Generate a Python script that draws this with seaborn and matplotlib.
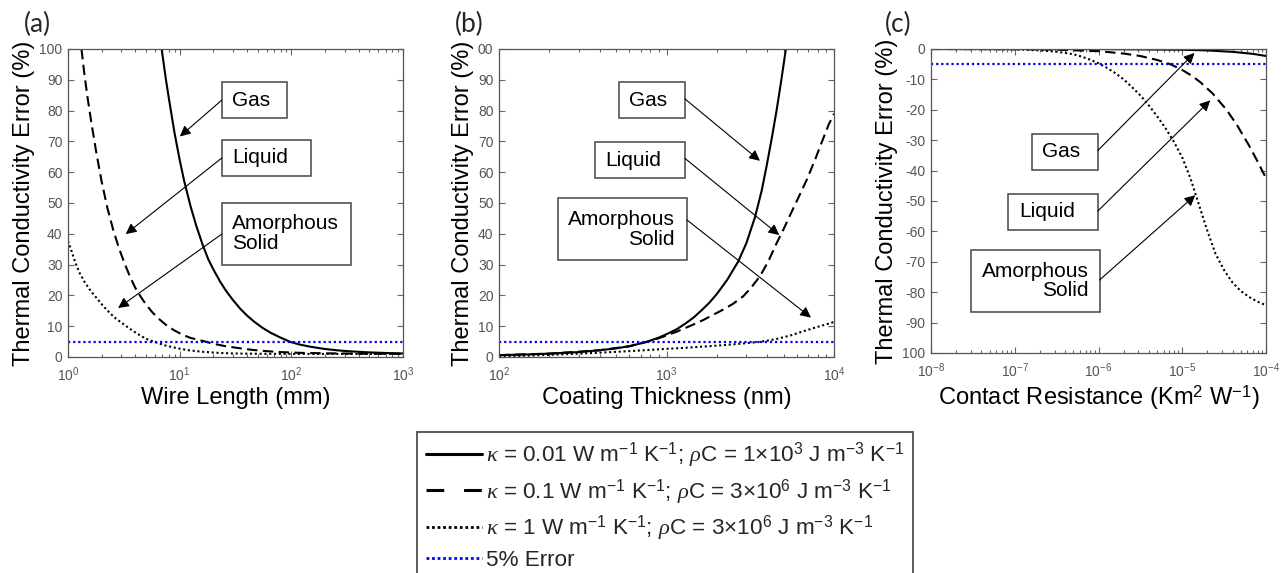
import numpy as np
import pandas as pd
import matplotlib
matplotlib.use('Agg')
import matplotlib.pyplot as plt
import seaborn as sns
from matplotlib.patches import Rectangle
from matplotlib.lines import Line2D
from matplotlib.ticker import LogLocator, NullFormatter, FixedLocator, FixedFormatter

# ---------------- data ----------------
# (a) Wire length (mm) vs error (%)
a_gas_x = [6.9, 7.5, 8, 9, 10, 11, 12.5, 14, 16, 18, 20, 23, 26, 30, 35, 40, 46, 55, 65, 80, 98,
           120, 150, 200, 270, 350, 500, 700, 1000]
a_gas_y = [100, 90.5, 84, 72.7, 64, 57, 49, 42.9, 36.6, 31.8, 28.5, 24.5, 21.5, 18.5, 15.6, 13.5, 11.6,
           9.5, 7.9, 6.3, 4.9, 4.0, 3.3, 2.6, 2.1, 1.8, 1.5, 1.3, 1.15]
a_liq_x = [1.32, 1.4, 1.5, 1.62, 1.8, 2.0, 2.25, 2.53, 2.85, 3.2, 3.6, 4.0, 4.4, 5, 5.7, 6.5, 7.5, 8.8,
           10.5, 12.5, 15, 17.4, 20, 25, 32, 45, 60, 80, 120, 200, 400, 1000]
a_liq_y = [100, 92, 84, 76, 66, 57, 48.5, 41.5, 35.5, 30.5, 26, 22.5, 20, 17, 14.5, 12.4, 10.5, 8.8,
           7.3, 6.2, 5.5, 4.9, 4.3, 3.6, 3.0, 2.3, 1.9, 1.6, 1.35, 1.2, 1.08, 1.03]
a_sol_x = [1, 1.08, 1.17, 1.27, 1.4, 1.6, 1.8, 2.05, 2.35, 2.7, 3.1, 3.6, 4.2, 5, 6, 7.5, 9.5, 12, 16,
           22, 30, 50, 100, 1000]
a_sol_y = [37.7, 34.2, 30.4, 27.3, 24.5, 21.4, 19.2, 16.7, 14.4, 12.4, 10.8, 9.1, 7.5, 5.9, 4.85, 3.7,
           2.85, 2.2, 1.7, 1.35, 1.15, 1.05, 1.0, 1.0]

# (b) Coating thickness (nm) vs error (%)
b_gas_x = [100, 150, 200, 300, 400, 500, 600, 760, 900, 1000, 1150, 1300, 1450, 1600, 1800, 2000,
           2300, 2680, 3000, 3380, 3700, 3960, 4250, 4540, 4850, 5160]
b_gas_y = [0.6, 0.85, 1.1, 1.6, 2.2, 2.8, 3.5, 4.9, 6.3, 7.4, 9.0, 10.9, 12.8, 14.9, 17.6, 20.5,
           25, 31, 37, 45.5, 54, 62, 71, 80, 90, 100]
b_liq_x = [100, 200, 400, 600, 760, 900, 1000, 1148, 1400, 1656, 1900, 2180, 2500, 2870, 3200, 3610,
           4050, 4540, 5000, 5460, 6100, 6870, 7700, 8630, 9300, 10000]
b_liq_y = [0.6, 1.1, 2.2, 3.5, 4.9, 6.1, 7.0, 8.2, 10.2, 12.0, 13.7, 15.4, 17.3, 19.7, 22.5, 26.2,
           31, 36.9, 41.5, 46, 51.5, 57.5, 64, 71, 75.5, 79]
b_sol_x = [100, 150, 240, 400, 600, 900, 1300, 1800, 2500, 3600, 4500, 5500, 6600, 8000, 9000, 10000]
b_sol_y = [0.25, 0.45, 0.85, 1.4, 1.9, 2.5, 3.0, 3.5, 4.1, 4.9, 5.8, 7.0, 8.4, 9.8, 10.6, 11.4]

# (c) Contact resistance (K m2 W-1) vs error (%)
c_gas_x = [1e-8, 1e-7, 1e-6, 1e-5, 2e-5, 4e-5, 7e-5, 1e-4]
c_gas_y = [0, 0, -0.02, -0.24, -0.47, -0.94, -1.6, -2.3]
c_liq_x = [1e-8, 1e-7, 3e-7, 1e-6, 2e-6, 3.15e-6, 5e-6, 7.2e-6, 1e-5, 1.3e-5, 1.64e-5, 2.3e-5, 3.4e-5,
           4.5e-5, 6.2e-5, 8e-5, 1e-4]
c_liq_y = [0, -0.07, -0.22, -0.7, -1.5, -2.3, -3.6, -5.0, -6.9, -8.8, -10.9, -14.6, -20.1, -25,
           -31.5, -37.2, -42.5]
c_sol_x = [1e-8, 1e-7, 2e-7, 3.2e-7, 5e-7, 6.3e-7, 7.9e-7, 1e-6, 1.26e-6, 1.58e-6, 2e-6, 2.5e-6,
           3.2e-6, 4e-6, 5e-6, 6.3e-6, 7.9e-6, 1e-5, 1.26e-5, 1.58e-5, 2e-5, 2.5e-5, 3.2e-5, 4e-5,
           5e-5, 6.3e-5, 7.9e-5, 1e-4]
c_sol_y = [0, -0.1, -0.45, -0.9, -1.7, -2.5, -3.5, -4.7, -6.2, -7.9, -10.0, -12.5, -15.4, -18.6,
           -22.1, -26.0, -30.4, -35.7, -42.7, -51.2, -59.9, -67.4, -73.0, -76.9, -79.6, -81.6,
           -83.1, -84.3]

error_level = 5  # % error threshold

legend_labels = [
    r'$\kappa$ = 0.01 W m$^{-1}$ K$^{-1}$; $\rho$C = 1$\times$10$^{3}$ J m$^{-3}$ K$^{-1}$',
    r'$\kappa$ = 0.1 W m$^{-1}$ K$^{-1}$; $\rho$C = 3$\times$10$^{6}$ J m$^{-3}$ K$^{-1}$',
    r'$\kappa$ = 1 W m$^{-1}$ K$^{-1}$; $\rho$C = 3$\times$10$^{6}$ J m$^{-3}$ K$^{-1}$',
    '5% Error',
]
panel_letters = ['(a)', '(b)', '(c)']
xlabels = ['Wire Length (mm)', 'Coating Thickness (nm)', r'Contact Resistance (Km$^{2}$ W$^{-1}$)']
ylabel = 'Thermal Conductivity Error (%)'
xlims = [(1, 1e3), (1e2, 1e4), (1e-8, 1e-4)]
ylims = [(0, 100), (0, 100), (-100, 0)]
yticks_ab = list(range(0, 101, 10))
ytl_a = [str(v) for v in yticks_ab]
ytl_b = [str(v) for v in yticks_ab[:-1]] + ['00']
yticks_c = list(range(-100, 1, 10))
ytl_c = ['100'] + [str(v) for v in yticks_c[1:]]

# ---------------- style ----------------
sns.set_theme(style='ticks')
plt.rcParams['font.family'] = ['Liberation Sans', 'DejaVu Sans']
plt.rcParams['mathtext.fontset'] = 'custom'
plt.rcParams['mathtext.rm'] = 'Liberation Sans'
plt.rcParams['mathtext.it'] = 'Liberation Serif:italic'
plt.rcParams['mathtext.bf'] = 'Liberation Sans:bold'

W, H = 1282, 573
fig = plt.figure(figsize=(W / 100, H / 100), dpi=100)

def fx(px):
    return px / W

def fy(py):
    return 1 - py / H

axes_px = [(68, 49, 403, 357), (499, 49, 834, 357), (931, 49, 1266, 353)]
axes = []
for (l, t, r, b) in axes_px:
    axes.append(fig.add_axes([fx(l), fy(b), fx(r - l), fy(t) - fy(b)]))

styles = dict(gas='-', liq=(0, (5, 2.6)), sol=(0, (1, 1.3)))
series = [
    [(a_gas_x, a_gas_y), (a_liq_x, a_liq_y), (a_sol_x, a_sol_y)],
    [(b_gas_x, b_gas_y), (b_liq_x, b_liq_y), (b_sol_x, b_sol_y)],
    [(c_gas_x, c_gas_y), (c_liq_x, c_liq_y), (c_sol_x, c_sol_y)],
]

for i, ax in enumerate(axes):
    for (xs, ys), key in zip(series[i], ['gas', 'liq', 'sol']):
        df = pd.DataFrame({'x': xs, 'y': ys})
        sns.lineplot(data=df, x='x', y='y', ax=ax, color='black', linestyle=styles[key],
                     lw=1.5, estimator=None)
    sign = -1 if i == 2 else 1
    ax.axhline(sign * error_level, color='#0000ff', linestyle=(0, (1, 1.3)), lw=1.6)
    ax.set_xscale('log')
    ax.set_xlim(*xlims[i])
    ax.set_ylim(*ylims[i])
    ax.xaxis.set_major_locator(LogLocator(base=10, numticks=12))
    ax.xaxis.set_minor_locator(LogLocator(base=10, subs=np.arange(2, 10), numticks=12))
    ax.xaxis.set_minor_formatter(NullFormatter())
    if i == 2:
        ax.yaxis.set_major_locator(FixedLocator(yticks_c))
        ax.yaxis.set_major_formatter(FixedFormatter(ytl_c))
    else:
        ax.yaxis.set_major_locator(FixedLocator(yticks_ab))
        ax.yaxis.set_major_formatter(FixedFormatter(ytl_a if i == 0 else ytl_b))
    ax.tick_params(which='both', direction='in', top=True, right=True, color='#666',
                   labelcolor='#555', labelsize=10, width=0.8)
    ax.tick_params(axis='y', pad=4)
    ax.tick_params(axis='x', pad=6)
    ax.tick_params(which='major', length=4)
    ax.tick_params(which='minor', length=2.5)
    for s in ax.spines.values():
        s.set_color('#555')
        s.set_linewidth(0.9)
    ax.set_xlabel(xlabels[i], fontsize=17, color='black', labelpad=2)
    ax.set_ylabel(ylabel, fontsize=17, color='black', labelpad=3)

# panel letters
for txt, cx in zip(panel_letters, [37, 469, 898]):
    fig.text(fx(cx), fy(24), txt, ha='center', va='center', fontsize=19, family=['Lato', 'DejaVu Sans'])

# annotation boxes: (box x0, x1, y0, y1 in axes fraction), text x, ha, arrow start, arrow tip (data)
annots = [
    [  # (a)
        ('Gas', (0.459, 0.655, 0.775, 0.893), 0.490, 'left', (0.459, 0.834), (10.05, 71.6)),
        ('Liquid', (0.459, 0.725, 0.588, 0.705), 0.490, 'left', (0.459, 0.646), (3.29, 39.9)),
        ('Amorphous\nSolid', (0.459, 0.845, 0.300, 0.501), 0.490, 'left', (0.459, 0.399), (2.81, 15.9)),
    ],
    [  # (b)
        ('Gas', (0.357, 0.555, 0.775, 0.893), 0.445, 'center', (0.555, 0.838), (3612, 63.7)),
        ('Liquid', (0.288, 0.555, 0.581, 0.697), 0.402, 'center', (0.555, 0.645), (4710, 39.6)),
        ('Amorphous\nSolid', (0.176, 0.561, 0.315, 0.515), 0.525, 'right', (0.561, 0.445), (7286, 12.8)),
    ],
    [  # (c)
        ('Gas', (0.300, 0.498, 0.602, 0.721), 0.389, 'center', (0.498, 0.666), (1.4e-5, -1.3)),
        ('Liquid', (0.231, 0.498, 0.404, 0.524), 0.346, 'center', (0.498, 0.467), (2.16e-5, -16.9)),
        ('Amorphous\nSolid', (0.120, 0.503, 0.135, 0.338), 0.470, 'right', (0.503, 0.240), (1.43e-5, -48.1)),
    ],
]
for ax, group in zip(axes, annots):
    for (txt, (x0, x1, y0, y1), tx, ha, start, tip) in group:
        ax.add_patch(Rectangle((x0, y0), x1 - x0, y1 - y0, transform=ax.transAxes,
                               facecolor='white', edgecolor='#444', lw=1.1, zorder=5))
        ax.text(tx, (y0 + y1) / 2, txt, transform=ax.transAxes, ha=ha, va='center',
                fontsize=15, color='black', zorder=6, multialignment=ha if ha != 'center' else 'center',
                linespacing=1.05)
        ax.annotate('', xy=tip, xycoords='data', xytext=start, textcoords='axes fraction',
                    arrowprops=dict(arrowstyle='-|>', color='black', lw=0.8, mutation_scale=16,
                                    shrinkA=0, shrinkB=0), zorder=6)

# legend
handles = [
    Line2D([], [], color='black', lw=2.2, linestyle='-'),
    Line2D([], [], color='black', lw=2.2, linestyle=(0, (5.8, 6.5))),
    Line2D([], [], color='black', lw=2.0, linestyle=(0, (1, 1))),
    Line2D([], [], color='#0000ff', lw=2.0, linestyle=(0, (1, 1))),
]
leg = fig.legend(handles, legend_labels, loc='upper left', bbox_to_anchor=(fx(417), fy(432)),
                 frameon=True, fancybox=False, edgecolor='#333', fontsize=16.2,
                 handlelength=2.5, handletextpad=0.2, borderpad=0.38, labelspacing=0.31,
                 borderaxespad=0)
leg.get_frame().set_linewidth(1.4)

fig.savefig('out.png', dpi=100)
